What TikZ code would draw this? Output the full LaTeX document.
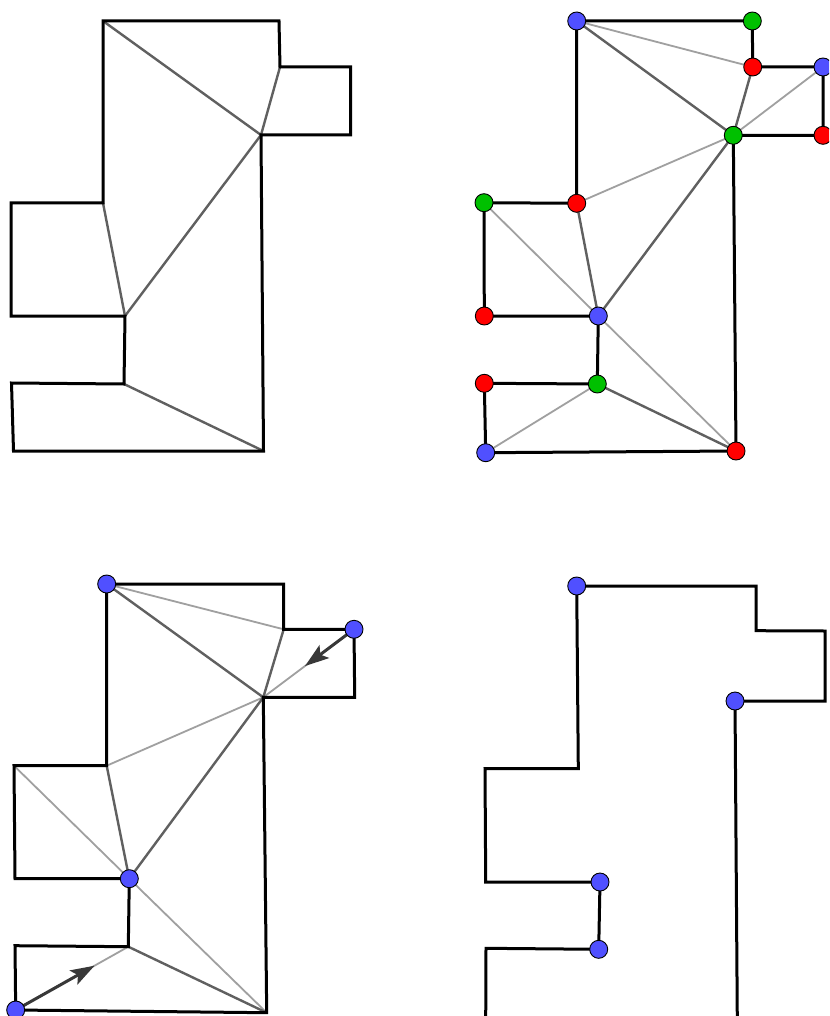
\documentclass[tikz,border=0pt]{standalone}
\usetikzlibrary{calc,arrows.meta}
\definecolor{vblue}{RGB}{80,80,255}
\definecolor{vred}{RGB}{255,0,0}
\definecolor{vgreen}{RGB}{0,192,0}
\definecolor{darkdiag}{RGB}{96,96,96}
\definecolor{lightdiag}{RGB}{160,160,160}
\definecolor{arrowc}{RGB}{56,56,56}
\tikzset{
  outline/.style={draw=black,line width=3pt},
  diagdark/.style={draw=darkdiag,line width=2.4pt},
  diaglight/.style={draw=lightdiag,line width=1.8pt},
  vtx/.style={circle,draw=black,line width=0.9pt,minimum size=18pt,inner sep=0pt},
  vb/.style={vtx,fill=vblue},
  vr/.style={vtx,fill=vred},
  vg/.style={vtx,fill=vgreen},
  guard/.style={draw=arrowc,line width=3pt,-{Stealth[length=24pt,width=16pt,inset=5pt]}}
}
\begin{document}
\begin{tikzpicture}[x=1pt,y=-1pt]
\clip (0,0) rectangle (829,1016);
\fill[white] (0,0) rectangle (829,1016);
% ---------- panel 1 (top left) ----------
\coordinate (a1) at (103,21);
\coordinate (a2) at (279,21);
\coordinate (a3) at (280,67);
\coordinate (a4) at (350.5,67);
\coordinate (a5) at (350.5,135);
\coordinate (a6) at (261,135);
\coordinate (a7) at (263.5,451);
\coordinate (a8) at (13.5,451);
\coordinate (a9) at (11.5,383);
\coordinate (a10) at (124,384);
\coordinate (a11) at (125,316);
\coordinate (a12) at (11,316);
\coordinate (a13) at (11,203);
\coordinate (a14) at (103,203);
\draw[diagdark] (a1) -- (a6);
\draw[diagdark] (a3) -- (a6);
\draw[diagdark] (a14) -- (a11);
\draw[diagdark] (a11) -- (a6);
\draw[diagdark] (a10) -- (a7);
\draw[outline] (a1) -- (a2) -- (a3) -- (a4) -- (a5) -- (a6) -- (a7) -- (a8) -- (a9) -- (a10) -- (a11) -- (a12) -- (a13) -- (a14) -- cycle;
% ---------- panel 2 (top right) ----------
\coordinate (b1) at (576.7,21);
\coordinate (b2) at (752.3,21);
\coordinate (b3) at (752.7,67);
\coordinate (b4) at (823,67);
\coordinate (b5) at (823,135.3);
\coordinate (b6) at (733.3,135.3);
\coordinate (b7) at (736,451);
\coordinate (b8) at (485.7,452.7);
\coordinate (b9) at (484.3,383.3);
\coordinate (b10) at (597.3,384);
\coordinate (b11) at (598.3,316);
\coordinate (b12) at (484.3,316);
\coordinate (b13) at (484,202.7);
\coordinate (b14) at (576.7,203.3);
\draw[diaglight] (b1) -- (b3);
\draw[diaglight] (b4) -- (b6);
\draw[diaglight] (b14) -- (b6);
\draw[diaglight] (b13) -- (b11);
\draw[diaglight] (b11) -- (b7);
\draw[diaglight] (b8) -- (b10);
\draw[diagdark] (b1) -- (b6);
\draw[diagdark] (b3) -- (b6);
\draw[diagdark] (b14) -- (b11);
\draw[diagdark] (b11) -- (b6);
\draw[diagdark] (b10) -- (b7);
\draw[outline] (b1) -- (b2) -- (b3) -- (b4) -- (b5) -- (b6) -- (b7) -- (b8) -- (b9) -- (b10) -- (b11) -- (b12) -- (b13) -- (b14) -- cycle;
\node[vb] (nb1) at (b1) {};
\node[vg] (nb2) at (b2) {};
\node[vr] (nb3) at (b3) {};
\node[vb] (nb4) at (b4) {};
\node[vr] (nb5) at (b5) {};
\node[vg] (nb6) at (b6) {};
\node[vr] (nb7) at (b7) {};
\node[vb] (nb8) at (b8) {};
\node[vr] (nb9) at (b9) {};
\node[vg] (nb10) at (b10) {};
\node[vb] (nb11) at (b11) {};
\node[vr] (nb12) at (b12) {};
\node[vg] (nb13) at (b13) {};
\node[vr] (nb14) at (b14) {};
% ---------- panel 3 (bottom left) ----------
\coordinate (c1) at (106.7,584);
\coordinate (c2) at (283.7,584);
\coordinate (c3) at (283.7,629.3);
\coordinate (c4) at (354,629.3);
\coordinate (c5) at (354.7,697.3);
\coordinate (c6) at (263.3,697.3);
\coordinate (c7) at (266.7,1012.7);
\coordinate (c8) at (15.7,1010);
\coordinate (c9) at (15,945.7);
\coordinate (c10) at (128.3,946.7);
\coordinate (c11) at (129.3,878.7);
\coordinate (c12) at (15,878.7);
\coordinate (c13) at (14,765.7);
\coordinate (c14) at (106.7,765.7);
\coordinate (t1) at ($(c4)!0.54!(c6)$);
\coordinate (t2) at ($(c8)!0.70!(c10)$);
\draw[diaglight] (c1) -- (c3);
\draw[diaglight] (c4) -- (c6);
\draw[diaglight] (c14) -- (c6);
\draw[diaglight] (c13) -- (c11);
\draw[diaglight] (c11) -- (c7);
\draw[diaglight] (c8) -- (c10);
\draw[diagdark] (c1) -- (c6);
\draw[diagdark] (c3) -- (c6);
\draw[diagdark] (c14) -- (c11);
\draw[diagdark] (c11) -- (c6);
\draw[diagdark] (c10) -- (c7);
\draw[outline] (c1) -- (c2) -- (c3) -- (c4) -- (c5) -- (c6) -- (c7) -- (c8) -- (c9) -- (c10) -- (c11) -- (c12) -- (c13) -- (c14) -- cycle;
\draw[guard] (c4) -- (t1);
\draw[guard] (c8) -- (t2);
\node[vb] (nc1) at (c1) {};
\node[vb] (nc4) at (c4) {};
\node[vb] (nc8) at (c8) {};
\node[vb] (nc11) at (c11) {};
% ---------- panel 4 (bottom right) ----------
\coordinate (d1) at (576.7,586);
\coordinate (d2) at (756,586);
\coordinate (d3) at (756,630.7);
\coordinate (d4) at (825,631);
\coordinate (d5) at (825,701);
\coordinate (d6) at (735,701);
\coordinate (d7) at (737.3,1020);
\coordinate (d8) at (485.7,1020);
\coordinate (d9) at (486,948.3);
\coordinate (d10) at (598.7,949.3);
\coordinate (d11) at (600,882);
\coordinate (d12) at (485.7,882);
\coordinate (d13) at (485,768.7);
\coordinate (d14) at (578.3,768.7);
\draw[outline] (d1) -- (d2) -- (d3) -- (d4) -- (d5) -- (d6) -- (d7) -- (d8) -- (d9) -- (d10) -- (d11) -- (d12) -- (d13) -- (d14) -- cycle;
\node[vb] (nd1) at (d1) {};
\node[vb] (nd6) at (d6) {};
\node[vb] (nd10) at (d10) {};
\node[vb] (nd11) at (d11) {};
\end{tikzpicture}
\end{document}
